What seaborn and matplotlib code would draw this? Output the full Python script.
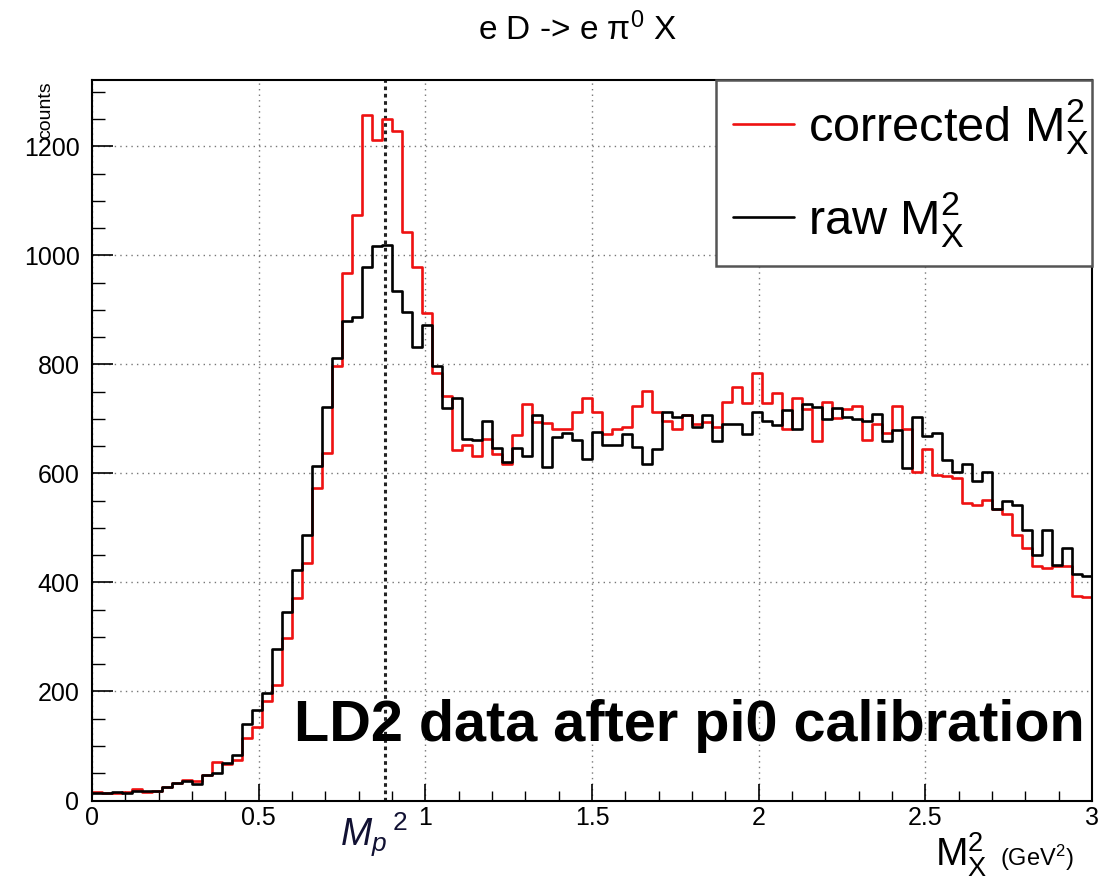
import numpy as np
import pandas as pd
import matplotlib
matplotlib.use("Agg")
import matplotlib.pyplot as plt
import seaborn as sns
from matplotlib.lines import Line2D
from matplotlib.ticker import MultipleLocator, FuncFormatter
from matplotlib.transforms import blended_transform_factory

# histogram binning: 100 bins from 0 to 3 GeV^2
x_lo, x_hi, n_bins = 0.0, 3.0, 100

# counts per bin
corrected_counts = [15, 14, 14, 15, 22, 16, 18, 24, 33, 38,
                    36, 46, 70, 67, 75, 114, 135, 183, 212, 298,
                    372, 436, 574, 638, 798, 968, 1074, 1258, 1212, 1251,
                    1228, 1043, 979, 894, 785, 743, 643, 653, 632, 664,
                    636, 617, 671, 727, 695, 693, 682, 681, 713, 739,
                    713, 672, 682, 686, 724, 751, 713, 697, 681, 707,
                    691, 695, 685, 731, 758, 730, 785, 729, 747, 682,
                    739, 719, 660, 732, 701, 719, 724, 661, 691, 675,
                    724, 681, 602, 645, 597, 595, 592, 546, 543, 551,
                    534, 525, 488, 464, 430, 427, 430, 430, 375, 373]

raw_counts = [14, 14, 16, 14, 18, 18, 18, 25, 33, 35,
              30, 46, 51, 69, 83, 141, 166, 198, 278, 345,
              423, 487, 613, 722, 812, 880, 887, 979, 1017, 1020,
              934, 896, 832, 873, 797, 720, 738, 663, 661, 696,
              646, 622, 646, 632, 708, 612, 667, 674, 661, 627,
              676, 653, 652, 673, 648, 617, 645, 712, 704, 707,
              686, 707, 660, 690, 690, 672, 712, 697, 689, 717,
              682, 727, 722, 700, 720, 704, 700, 697, 710, 660,
              680, 610, 703, 669, 675, 624, 603, 618, 586, 603,
              534, 549, 542, 497, 451, 497, 433, 464, 415, 412]

series_labels = [r"corrected M$\mathregular{_X^2}$", r"raw M$\mathregular{_X^2}$"]
mp2 = 0.880  # proton mass squared

RED = "#ee1111"

sns.set_theme(style="white")
plt.rcParams["font.family"] = ["Liberation Sans", "DejaVu Sans"]
plt.rcParams["mathtext.fontset"] = "custom"
plt.rcParams["mathtext.rm"] = "Liberation Sans"
plt.rcParams["mathtext.it"] = "Liberation Sans:italic"
for key in ["text.color", "axes.labelcolor", "xtick.color", "ytick.color"]:
    plt.rcParams[key] = "black"

edges = np.linspace(x_lo, x_hi, n_bins + 1)
centers = 0.5 * (edges[:-1] + edges[1:])
df = pd.DataFrame({"m2": centers, "corrected": corrected_counts, "raw": raw_counts})

fig = plt.figure(figsize=(11.01, 8.8), dpi=100)
ax = fig.add_axes([92 / 1101, 79.5 / 880, 1000 / 1101, 720.5 / 880])

sns.histplot(data=df, x="m2", weights="corrected", bins=n_bins, binrange=(x_lo, x_hi),
             element="step", fill=False, color=RED, linewidth=1.9, ax=ax)
sns.histplot(data=df, x="m2", weights="raw", bins=n_bins, binrange=(x_lo, x_hi),
             element="step", fill=False, color="black", linewidth=1.9, ax=ax)

ax.axvline(mp2, color="#222222", lw=2.2, ls=(0, (1.2, 1.2)), zorder=1)

ax.set_xlim(x_lo, x_hi)
ax.set_ylim(0, 1322)
ax.set_xlabel("")
ax.set_ylabel("")

ax.xaxis.set_major_locator(MultipleLocator(0.5))
ax.xaxis.set_minor_locator(MultipleLocator(0.1))
ax.yaxis.set_major_locator(MultipleLocator(200))
ax.yaxis.set_minor_locator(MultipleLocator(50))
ax.xaxis.set_major_formatter(FuncFormatter(lambda v, p: f"{v:g}"))

ax.tick_params(axis="both", which="both", direction="in", color="black",
               labelcolor="black", bottom=True, left=True, top=False, right=False,
               labelsize=18)
ax.tick_params(axis="x", which="major", length=12, width=1.2, pad=4)
ax.tick_params(axis="x", which="minor", length=7, width=1.0)
ax.tick_params(axis="y", which="major", length=15, width=1.2, pad=9)
ax.tick_params(axis="y", which="minor", length=9, width=1.0)

ax.grid(True, which="major", ls=(0, (1, 3)), color="#777777", lw=1.0)
ax.set_axisbelow(True)
for s in ax.spines.values():
    s.set_color("black")
    s.set_linewidth(1.5)

handles = [Line2D([], [], color=RED, lw=1.9), Line2D([], [], color="black", lw=1.9)]
leg = ax.legend(handles, series_labels, loc="upper left",
                bbox_to_anchor=(0.624, 0.747, 0.376, 0.253), mode="expand",
                borderaxespad=0, fontsize=35, frameon=True, fancybox=False,
                borderpad=0.35, handlelength=1.25, handletextpad=0.3,
                labelspacing=0.7)
leg.get_frame().set_edgecolor("#555555")
leg.get_frame().set_linewidth(1.8)
leg.get_frame().set_alpha(1)

ax.text(0.993, 0.083, "LD2 data after pi0 calibration", transform=ax.transAxes,
        ha="right", va="baseline", fontsize=41.5, fontweight="bold", color="black")

trans = blended_transform_factory(ax.transData, ax.transAxes)
ax.text(mp2 - 0.035, -0.014, r"$M_p\,{}^{2}$", transform=trans, ha="center",
        va="top", fontsize=27, color="#111133")

fig.text(577 / 1101, 1 - 30 / 880, r"e D -> e $\mathregular{\pi^0}$ X",
         ha="center", va="center", fontsize=24)
fig.text(46 / 1101, 1 - 81 / 880, "counts", rotation=90, ha="center",
         va="top", fontsize=14)
fig.text(935 / 1101, 1 - 866 / 880, r"M$\mathregular{_X^2}$", ha="left",
         va="baseline", fontsize=28)
fig.text(1000 / 1101, 1 - 866 / 880, r"(GeV$\mathregular{^2}$)", ha="left",
         va="baseline", fontsize=17)

fig.savefig("out.png", dpi=100)
